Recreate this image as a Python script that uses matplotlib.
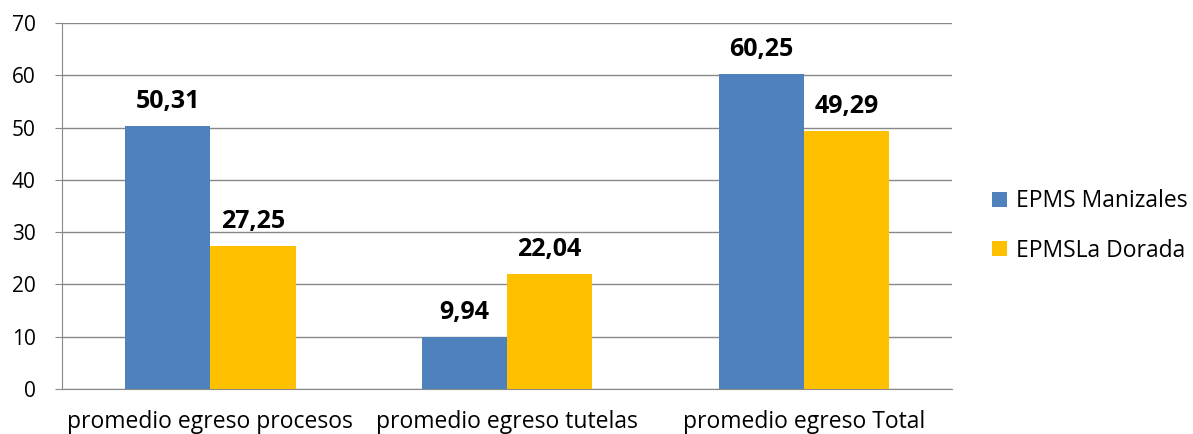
import matplotlib.pyplot as plt
import numpy as np

plt.rcParams['font.family'] = ['Open Sans', 'DejaVu Sans']

categories = ['promedio egreso procesos', 'promedio egreso tutelas', 'promedio egreso Total']
manizales = [50.31, 9.94, 60.25]
la_dorada = [27.25, 22.04, 49.29]
series_names = ['EPMS Manizales', 'EPMSLa Dorada']

fig = plt.figure(figsize=(11.93, 4.34), dpi=100)
ax = fig.add_axes([0.052, 0.104, 0.746, 0.843])

x = np.arange(len(categories))
w = 0.287
b1 = ax.bar(x - w/2, manizales, w, color='#4F81BD', label=series_names[0], zorder=3)
b2 = ax.bar(x + w/2, la_dorada, w, color='#FFC000', label=series_names[1], zorder=3)

# value labels above bars, comma decimal
for bars, vals in [(b1, manizales), (b2, la_dorada)]:
    for r, v in zip(bars, vals):
        ax.text(r.get_x() + r.get_width()/2, v + 2.3, f'{v:.2f}'.replace('.', ','),
                ha='center', va='bottom', fontsize=18, fontweight='bold')

ax.set_xlim(-0.5, 2.5)
ax.set_ylim(0, 70)
ax.set_yticks(range(0, 71, 10))
ax.set_xticks(x)
ax.set_xticklabels(categories)
ax.yaxis.grid(True, color='#888888', linewidth=1, zorder=0)
ax.tick_params(axis='x', length=0, labelsize=16.5, pad=15)
ax.tick_params(axis='y', length=5, color='#888888', labelsize=15, pad=14)
for s in ['top', 'right']:
    ax.spines[s].set_visible(False)
for s in ['left', 'bottom']:
    ax.spines[s].set_color('#888888')

ax.legend(loc='center left', bbox_to_anchor=(1.022, 0.445), frameon=False,
          fontsize=16.5, handlelength=0.65, handleheight=0.65, labelspacing=1.1,
          handletextpad=0.4)

plt.savefig('out.png', dpi=100)
